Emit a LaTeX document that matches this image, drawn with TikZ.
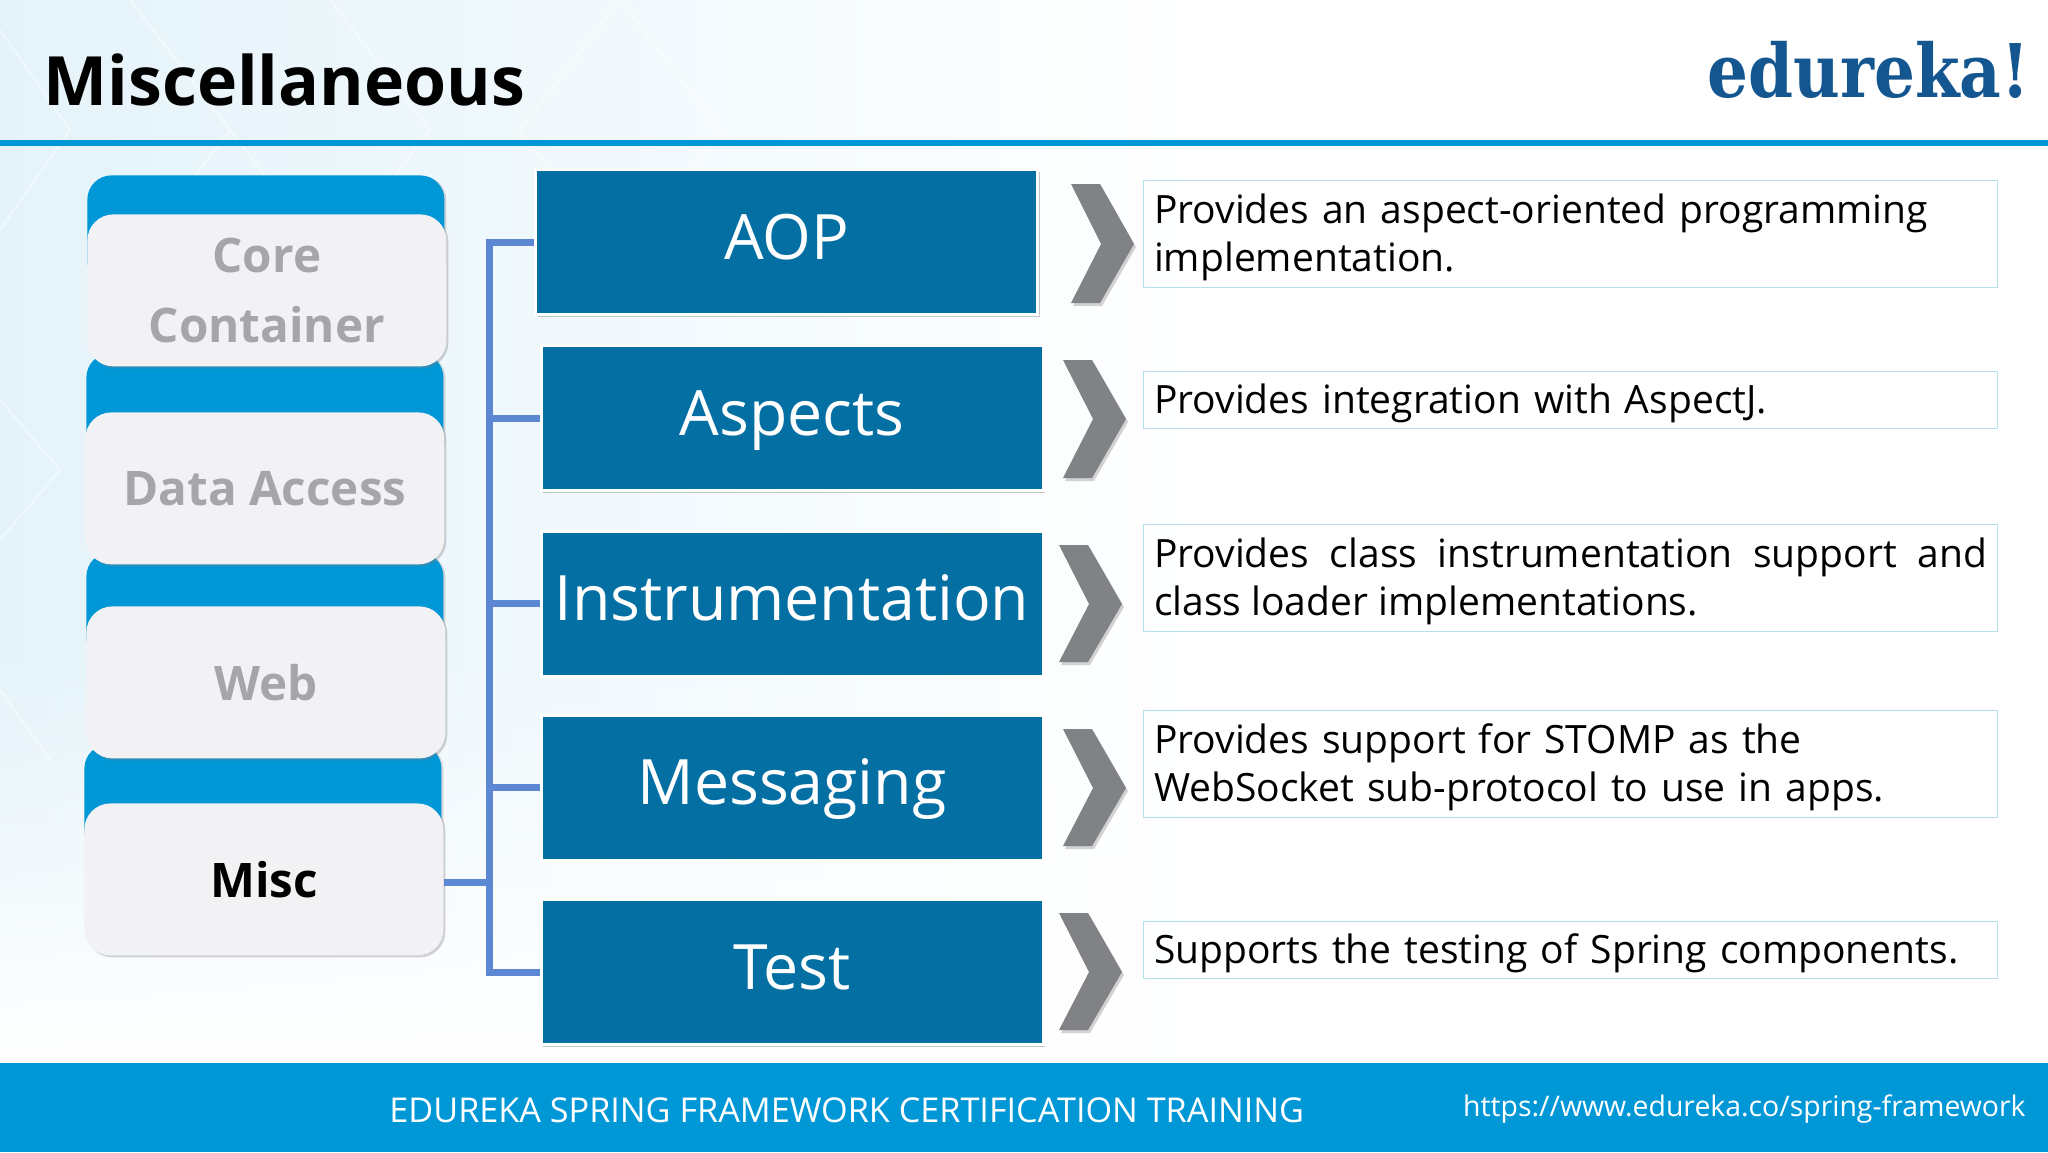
\documentclass[tikz,border=0pt]{standalone}
\usepackage{fontspec}
\setmainfont{Open Sans}
\newfontfamily\logofont[FakeStretch=0.87]{DejaVu Serif}
\definecolor{colorBar}{HTML}{0097D7}
\definecolor{colorModule}{HTML}{046FA3}
\definecolor{colorBus}{HTML}{5B87D3}
\definecolor{colorCard}{HTML}{F2F2F4}
\definecolor{colorMuted}{HTML}{A6A6A8}
\definecolor{colorChevron}{HTML}{808285}
\definecolor{colorNote}{HTML}{B4E0EE}
\definecolor{colorLogo}{HTML}{14568F}
\definecolor{colorWash}{HTML}{E4F3FA}
\usetikzlibrary{positioning, shadows, fadings}
\tikzset{
  layerback/.style={fill=colorBar, rounded corners=12pt, minimum width=178.5pt, minimum height=55pt, anchor=north west, drop shadow={opacity=0.3, shadow xshift=1pt, shadow yshift=-0.5pt}},
  layercard/.style={fill=colorCard, rounded corners=13pt, minimum width=179.5pt, minimum height=76pt, inner sep=0pt, align=center, text=colorMuted, font=\fontsize{23.8}{34.6}\selectfont\bfseries, anchor=north west, drop shadow={opacity=0.35, shadow xshift=1pt, shadow yshift=-1pt}},
  modulebox/.style={fill=colorModule, draw=white, line width=1.5pt, minimum width=251pt, minimum height=72.5pt, inner sep=0pt, text height=24pt, text depth=6.7pt, text=white, font=\fontsize{31.3}{38}\selectfont, drop shadow={opacity=0.45, shadow xshift=1pt, shadow yshift=-1pt}},
  notebox/.style={draw=colorNote, line width=0.6pt, anchor=north west, text width=416.5pt, inner xsep=5.25pt, inner ysep=0pt, text height=17.6pt, font=\fontsize{19.5}{24}\selectfont},
  busline/.style={draw=colorBus, line width=3.5pt},
  chevronmark/.style={fill=colorChevron, drop shadow={opacity=0.35, shadow xshift=1pt, shadow yshift=-1.5pt}},
  latticeline/.style={draw=white, line width=1.2pt, opacity=0.4},
}

\begin{document}
\begin{tikzpicture}[x=0.5pt, y=-0.5pt]
\useasboundingbox (0,0) rectangle (2048,1152);
% background
\shade[left color=colorWash, right color=white] (0,0) rectangle (1200,1063);
\fill[white, path fading=north] (0,650) rectangle (1200,1063);
\draw[latticeline] (0,30) -- (70,130) -- (0,230);
\draw[latticeline] (130,0) -- (230,130) -- (130,260);
\draw[latticeline] (330,0) -- (430,130) -- (330,260) -- (230,130);
\draw[latticeline] (0,400) -- (60,470) -- (0,540);
\draw[latticeline] (620,0) -- (720,130) -- (620,260) -- (520,130) -- cycle;
\draw[latticeline] (0,690) -- (50,760);
\fill[colorBar] (0,140) rectangle (2048,146);
\fill[colorBar] (0,1063) rectangle (2048,1152);
% header and footer
\node[anchor=base west, inner sep=0pt, font=\fontsize{34}{40}\selectfont\bfseries] (title) at (43,105) {Miscellaneous};
\node[anchor=base east, inner sep=0pt, text=colorLogo, font=\logofont\fontsize{37}{40}\selectfont\bfseries] (logo) at (2030,97) {edureka!};
\node[anchor=base west, inner sep=0pt, text=white, font=\fontsize{17.1}{20}\selectfont] (course) at (389,1122) {EDUREKA SPRING FRAMEWORK CERTIFICATION TRAINING};
\node[anchor=base east, inner sep=0pt, text=white, font=\fontsize{14.2}{20}\selectfont] (link) at (2026,1116) {https://www.edureka.co/spring-framework};
% layers
\node[layerback] (backCore) at (87,175) {};
\node[layerback] (backData) at (86,353) {};
\node[layerback] (backWeb) at (86,552) {};
\node[layerback] (backMisc) at (84,744) {};
\node[layercard] (core) at (87,214) {Core\\Container};
\node[layercard] (data) at (85,412) {Data Access};
\node[layercard] (web) at (86,606) {Web};
\node[layercard, text=black] (misc) at (84,803) {Misc};
% modules
\node[modulebox] (aop) at (786.5,242) {AOP};
\node[modulebox] (aspects) at (792,418) {Aspects};
\node[modulebox] (instr) at (792,603.5) {Instrumentation};
\node[modulebox] (messaging) at (792,787.5) {Messaging};
\node[modulebox] (test) at (792,972) {Test};
% bus
\coordinate (busTop) at (489,242);
\coordinate (busEnd) at (489,972);
\draw[busline] (aop.west) -- (busTop) -- (busEnd) -- (test.west);
\draw[busline] (aspects.west) -- (aspects.west -| busTop);
\draw[busline] (instr.west) -- (instr.west -| busTop);
\draw[busline] (messaging.west) -- (messaging.west -| busTop);
\draw[busline] ([yshift=-1.5pt]misc.east) -- ([yshift=-1.5pt]misc.east -| busTop);
% chevrons
\path[chevronmark] (1071,184) -- (1100,184) -- (1134,244) -- (1100,303) -- (1071,303) -- (1101,244) -- cycle;
\path[chevronmark] (1063,360) -- (1092,360) -- (1126,419) -- (1092,478) -- (1063,478) -- (1093,419) -- cycle;
\path[chevronmark] (1059,545) -- (1088,545) -- (1122,604) -- (1088,662) -- (1059,662) -- (1089,604) -- cycle;
\path[chevronmark] (1063,729) -- (1092,729) -- (1126,788) -- (1092,846) -- (1063,846) -- (1093,788) -- cycle;
\path[chevronmark] (1059,913) -- (1088,913) -- (1122,972) -- (1088,1030) -- (1059,1030) -- (1089,972) -- cycle;
% notes
\node[notebox, minimum height=53.5pt, align=left] (noteAop) at (1143,180) {Provides an aspect-oriented programming\\implementation.};
\node[notebox, minimum height=28.5pt, align=left] (noteAspects) at (1143,371) {Provides integration with AspectJ.};
\node[notebox, minimum height=53.5pt, align=justify] (noteInstr) at (1143,524) {Provides class instrumentation support and class loader implementations.};
\node[notebox, minimum height=53.5pt, align=left] (noteMessaging) at (1143,710) {Provides support for STOMP as the\\WebSocket sub-protocol to use in apps.};
\node[notebox, minimum height=28.5pt, align=left] (noteTest) at (1143,921) {Supports the testing of Spring components.};
\end{tikzpicture}
\end{document}
